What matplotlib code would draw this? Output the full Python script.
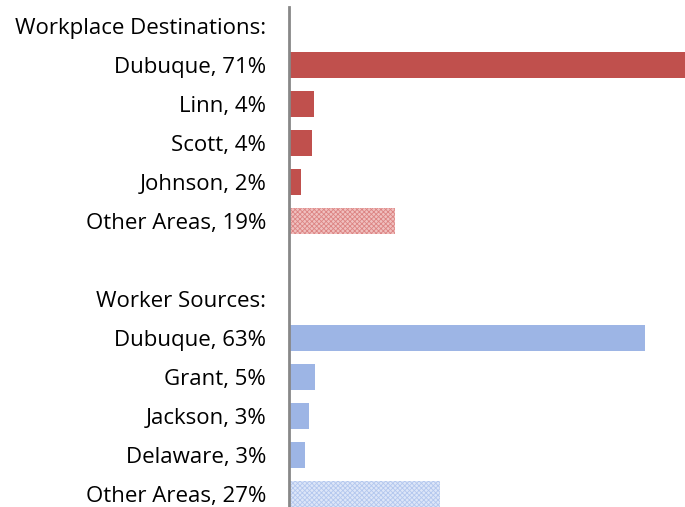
import matplotlib
matplotlib.use("Agg")
from matplotlib import pyplot as plt
import numpy as np

# rows top to bottom; None = header / spacer row without a bar
labels = ["Workplace Destinations:", "Dubuque, 71%", "Linn, 4%", "Scott, 4%",
          "Johnson, 2%", "Other Areas, 19%", "",
          "Worker Sources:", "Dubuque, 63%", "Grant, 5%", "Jackson, 3%",
          "Delaware, 3%", "Other Areas, 27%"]
values = [None, 71, 4.5, 4.2, 2.2, 19, None,
          None, 63.8, 4.6, 3.5, 2.8, 27]
groups = [None, "dest", "dest", "dest", "dest", "dest_other", None,
          None, "src", "src", "src", "src", "src_other"]

plt.rcParams['font.family'] = ['Open Sans', 'DejaVu Sans']
plt.rcParams['hatch.linewidth'] = 0.6

styles = {
    "dest": dict(color="#c0504d"),
    "dest_other": dict(facecolor="#f0c0bf", edgecolor="#dc8483", hatch="xxxxxxx", linewidth=0),
    "src": dict(color="#9db5e5"),
    "src_other": dict(facecolor="#dde6f8", edgecolor="#b3c7ee", hatch="xxxxxxx", linewidth=0),
}

fig = plt.figure(figsize=(6.85, 5.07), dpi=100)
ax = fig.add_axes([0.422, -0.013, 0.578, 1.0])

y = np.arange(len(labels))
for yi, v, g in zip(y, values, groups):
    if v is None:
        continue
    ax.barh(yi, v, height=0.65, **styles[g])

ax.set_ylim(len(labels) - 0.5, -0.5)
ax.set_xlim(0, 71)
ax.set_yticks(y)
ax.set_yticklabels(labels, fontsize=16)
ax.tick_params(axis="y", length=0, pad=16.5)
ax.set_xticks([])
for s in ["top", "right", "bottom"]:
    ax.spines[s].set_visible(False)
ax.spines["left"].set_color("#888888")
ax.spines["left"].set_linewidth(2)

fig.savefig("out.png", dpi=100)
